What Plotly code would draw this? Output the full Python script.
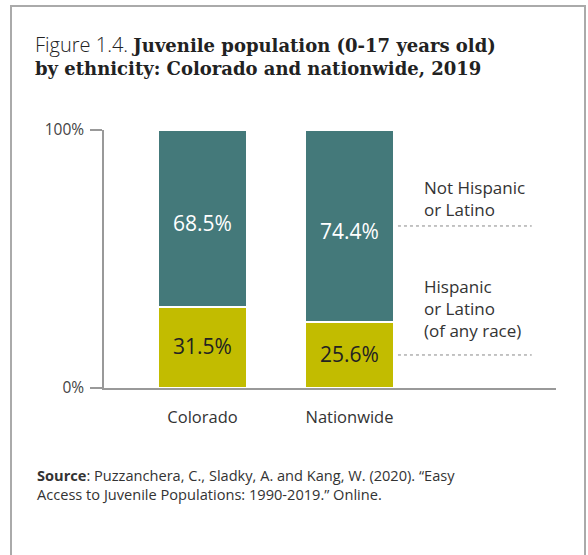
import plotly.graph_objects as go

# ---- data ----
regions = ["Colorado", "Nationwide"]
hispanic = [31.5, 25.6]
not_hispanic = [68.5, 74.4]
series_names = ["Hispanic<br>or Latino<br>(of any race)", "Not Hispanic<br>or Latino"]
y_ticks = [0, 100]
y_tick_labels = ["0%", "100%"]

TEAL = "#44797A"
OLIVE = "#C2BC00"
SANS = "'Open Sans', Lato, sans-serif"

W, H = 588, 555
L, R, T, B = 104, 32, 130, 167
pw, ph = W - L - R, H - T - B

xs = list(range(len(regions)))
fig = go.Figure()
fig.add_trace(go.Bar(x=xs, y=hispanic, width=0.6,
                     marker=dict(color=OLIVE, line=dict(color="white", width=2)), hoverinfo="skip"))
fig.add_trace(go.Bar(x=xs, y=not_hispanic, width=0.6,
                     marker=dict(color=TEAL, line=dict(color="white", width=2)), hoverinfo="skip"))


def px_x(p):
    return (p - L) / pw


def px_y(p):
    return (H - B - p) / ph


annotations = []
# value labels inside the segments
for i in xs:
    annotations.append(dict(xref="x", yref="y", x=i, y=hispanic[i] / 2, text=f"{hispanic[i]}%",
                            showarrow=False, yshift=1,
                            font=dict(family=SANS, size=21, color="#222")))
    annotations.append(dict(xref="x", yref="y", x=i, y=hispanic[i] + not_hispanic[i] / 2,
                            text=f"{not_hispanic[i]}%", showarrow=False, yshift=-5,
                            font=dict(family=SANS, size=21, color="white")))

shapes = [dict(type="rect", xref="paper", yref="paper",
               x0=px_x(11), x1=px_x(585), y0=px_y(600), y1=px_y(6),
               line=dict(color="#AAAAAA", width=2), layer="below")]

# leader lines at the Nationwide segment mid-points
last = len(regions) - 1
mids = [hispanic[last] / 2, hispanic[last] + not_hispanic[last] / 2]
for m in mids:
    shapes.append(dict(type="line", xref="x", yref="y", x0=1.33, x1=2.24, y0=m, y1=m,
                       line=dict(color="#888888", width=1, dash="dot")))

for name, m, ys in zip(series_names, mids, [46, 27]):
    annotations.append(dict(xref="x", yref="y", x=1.49, y=m, text=name, showarrow=False,
                            xanchor="left", yanchor="middle", align="left", yshift=ys,
                            font=dict(family=SANS, size=17, color="#333")))

annotations.append(dict(
    xref="paper", yref="paper", x=px_x(33), y=px_y(29), xanchor="left", yanchor="top",
    align="left", showarrow=False,
    text=("<span style=\"font-family:'Open Sans';font-weight:300;font-size:20px\">Figure 1.4. </span>"
          "<span style=\"font-family:'DejaVu Serif';font-weight:bold\">Juvenile population (0-17 years old)</span><br>"
          "<span style=\"font-family:'DejaVu Serif';font-weight:bold\">by ethnicity: Colorado and nationwide, 2019</span>"),
    font=dict(family=SANS, size=18, color="#222")))

annotations.append(dict(
    xref="paper", yref="paper", x=px_x(35), y=px_y(463), xanchor="left", yanchor="top",
    align="left", showarrow=False,
    text=("<b>Source</b>: Puzzanchera, C., Sladky, A. and Kang, W. (2020). \u201cEasy<br>"
          "Access to Juvenile Populations: 1990-2019.\u201d Online."),
    font=dict(family=SANS, size=14.6, color="#333")))

fig.update_layout(
    width=W, height=H, margin=dict(l=L, r=R, t=T, b=B),
    paper_bgcolor="white", plot_bgcolor="white",
    barmode="stack", showlegend=False,
    shapes=shapes, annotations=annotations,
    xaxis=dict(range=[-0.67, 2.405], tickvals=xs, ticktext=regions, showgrid=False,
               zeroline=False, showline=True, linecolor="#999999", linewidth=2,
               ticks="", ticklabelstandoff=13, layer="below traces",
               tickfont=dict(family=SANS, size=16.5, color="#333"), fixedrange=True),
    yaxis=dict(range=[0, 100], tickvals=y_ticks, ticktext=y_tick_labels, showgrid=False,
               zeroline=False, showline=True, linecolor="#999999", linewidth=1.5,
               ticks="outside", ticklen=12, tickcolor="#999999", tickwidth=1.5,
               ticklabelstandoff=3,
               tickfont=dict(family=SANS, size=15.5, color="#444"), fixedrange=True),
)

fig.write_html("out.html")
